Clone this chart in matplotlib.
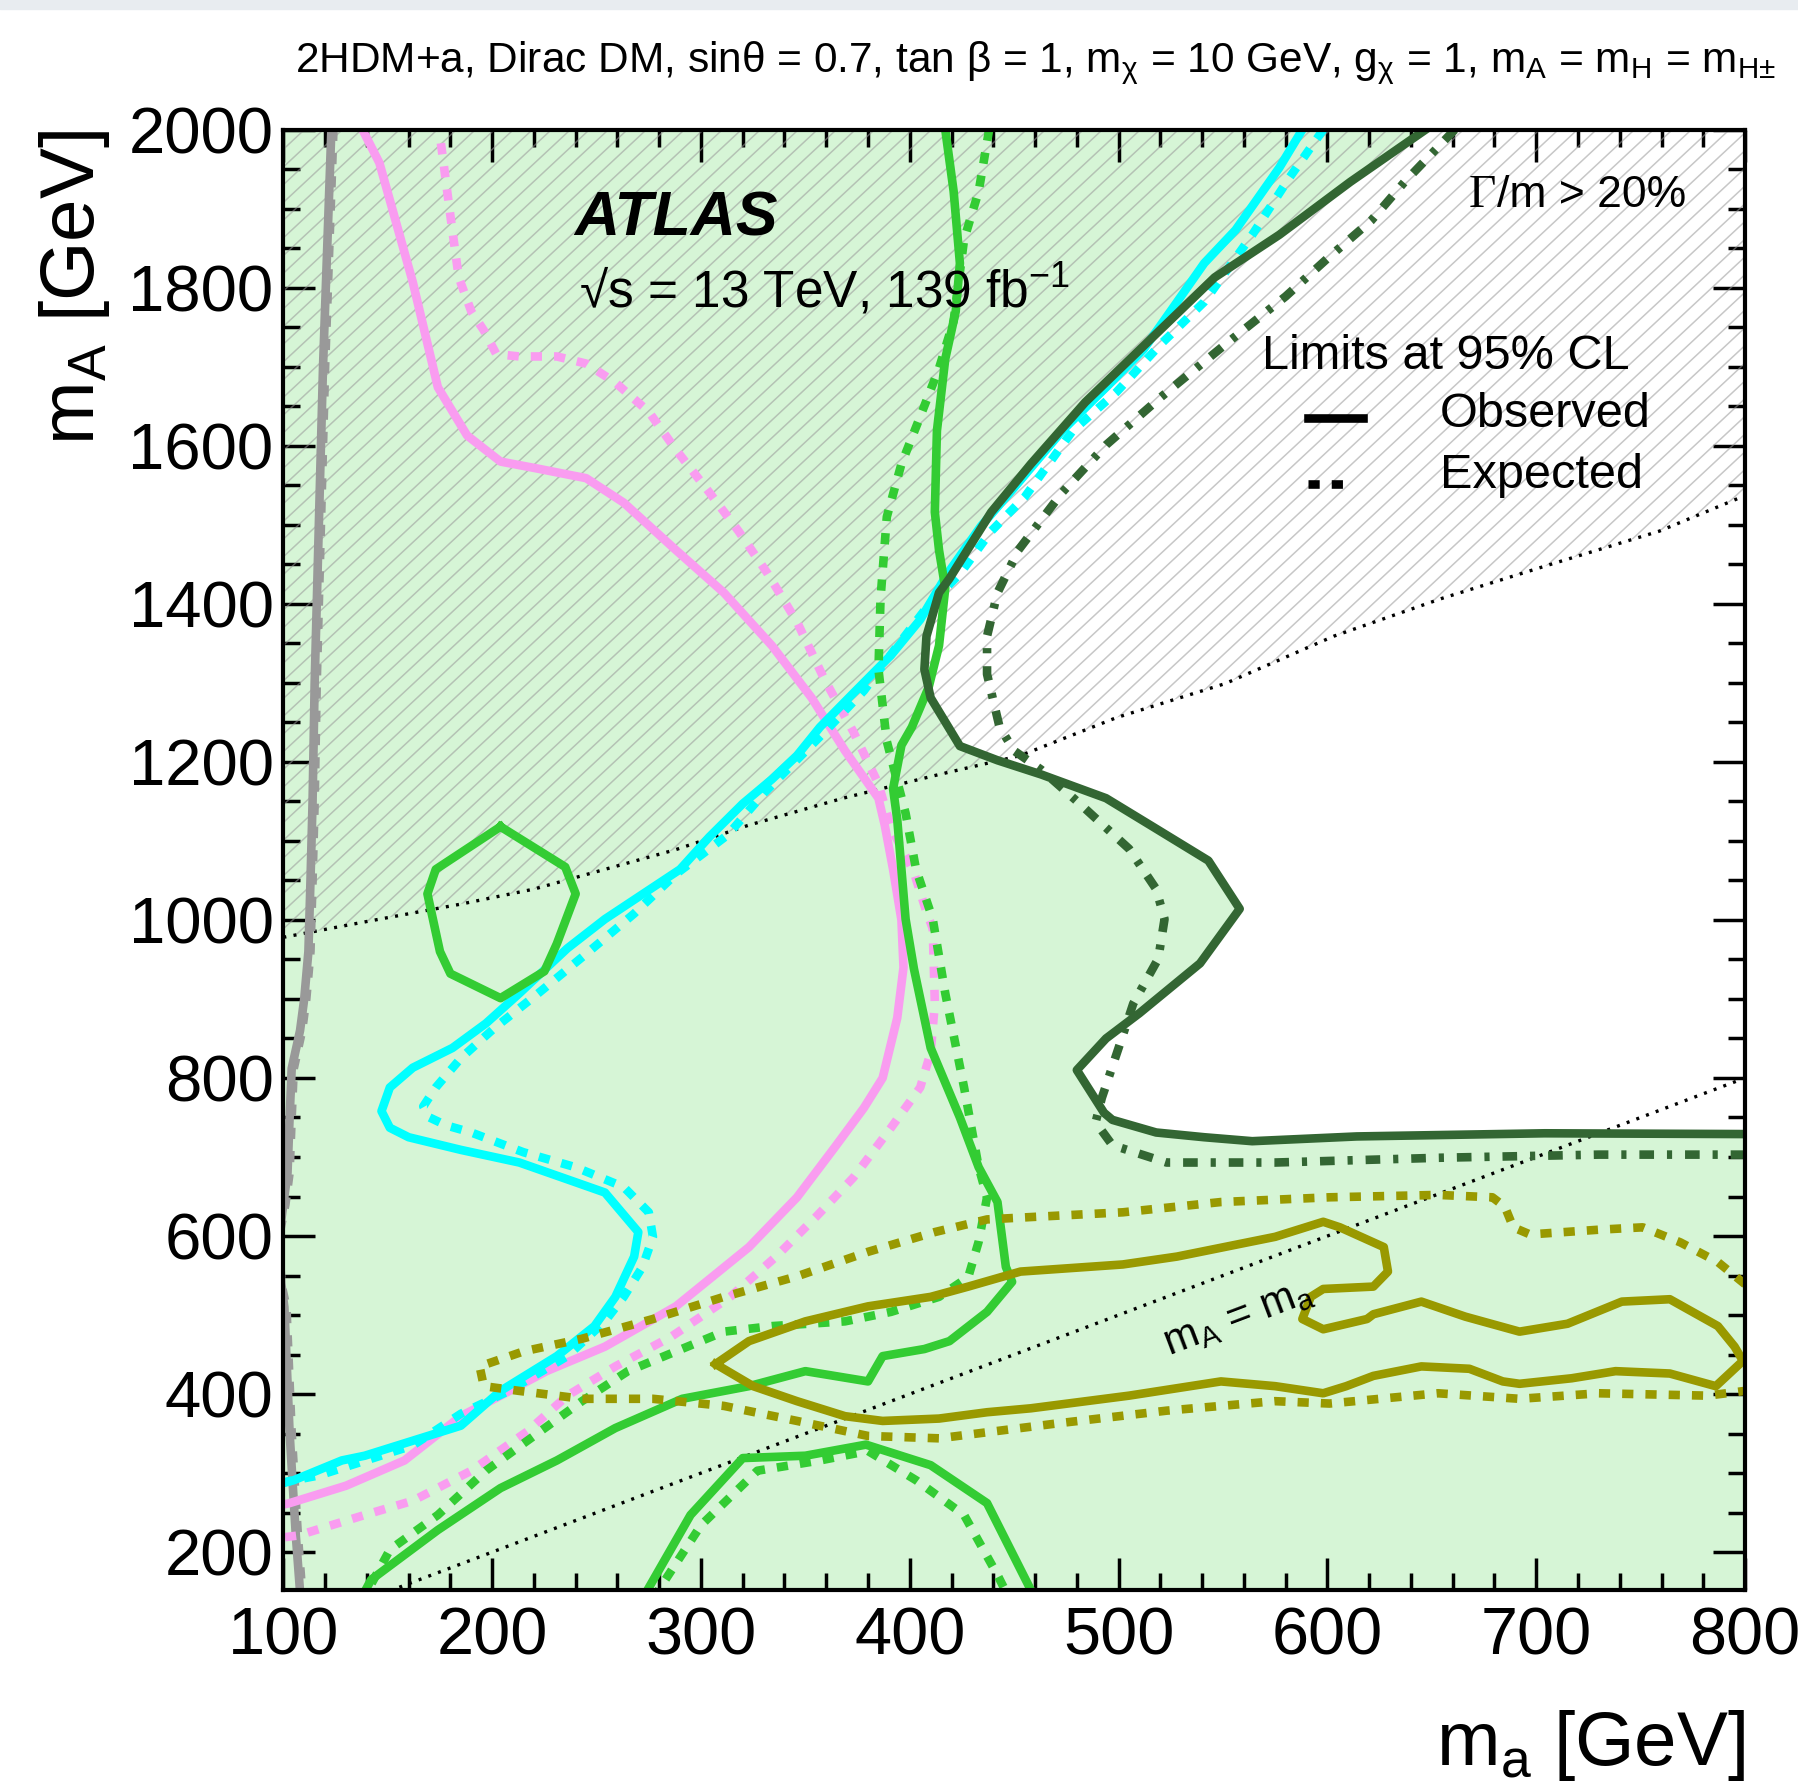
import numpy as np
import matplotlib
matplotlib.use("Agg")
import matplotlib.pyplot as plt
from matplotlib.patches import Polygon, Rectangle
from matplotlib.collections import LineCollection
from matplotlib.lines import Line2D

plt.rcParams['font.family'] = ['Liberation Sans', 'DejaVu Sans']
plt.rcParams['mathtext.fontset'] = 'custom'
plt.rcParams['mathtext.rm'] = 'Liberation Sans'
plt.rcParams['mathtext.it'] = 'Liberation Sans:italic'
plt.rcParams['mathtext.bf'] = 'Liberation Sans:bold'
plt.rcParams['mathtext.default'] = 'regular'

FILL_GREEN = "#d6f5d6"
GREY = "#999999"
PINK = "#f99cf0"
CYAN = "#00ffff"
GREEN = "#33cc33"
DARK_GREEN = "#336633"
OLIVE = "#999900"

LW = 6.2
DASHED = (0, (1.3, 1.4))
DASHDOT = (0, (1.7, 1.5, 0.6, 1.5))

# --- contours (m_a, m_A) in GeV ---
grey_obs_x = [123, 121, 119, 117, 115, 114, 113, 112, 110, 108, 104, 103, 102, 100, 98, 99, 100.5, 103, 106, 108]
grey_obs_y = [2000, 1850, 1700, 1500, 1300, 1150, 1050, 960, 900, 860, 812, 750, 680, 640, 600, 540, 510, 351, 220, 150]
grey_exp_x = [124, 122, 120, 118, 116, 115, 114, 113, 111, 109, 105, 104, 103, 101, 98, 99, 101.5, 104, 107, 109]
grey_exp_y = [2000, 1850, 1700, 1500, 1300, 1150, 1050, 960, 900, 860, 812, 750, 680, 640, 600, 540, 510, 351, 220, 150]

pink_obs_x = [136, 146, 162, 174, 188, 204, 222, 245, 263, 288, 311, 334, 353, 369, 385, 388, 392, 396, 397,
              394, 387, 378, 364, 346, 323, 288, 254, 226, 204, 185, 158, 130, 103, 98]
pink_obs_y = [2010, 1958, 1807, 1674, 1613, 1580, 1571, 1559, 1528, 1468, 1414, 1347, 1281, 1214, 1154, 1120, 1064, 1000, 940,
              876, 800, 762, 712, 649, 586, 511, 460, 429, 398, 372, 316, 284, 262, 259]
pink_exp_x = [174, 177, 180, 184, 190, 196, 202, 213, 231, 245, 259, 275, 288, 304, 318, 332, 346, 359, 373, 385, 391,
              402, 408, 411, 412, 410, 405, 391, 373, 355, 336, 314, 286, 259, 236, 217, 190, 162, 139, 107, 98]
pink_exp_y = [2012, 1952, 1891, 1813, 1770, 1746, 1716, 1713, 1713, 1704, 1680, 1643, 1595, 1541, 1492, 1438, 1377, 1305, 1238, 1172, 1117,
              1060, 1010, 989, 894, 832, 788, 737, 674, 624, 574, 523, 473, 435, 398, 353, 303, 265, 247, 221, 218]

cyan_obs_x = [588, 577, 556, 541, 528, 512, 494, 473, 450, 434, 418, 405, 391, 373, 357, 346, 334, 320, 304, 290, 254, 236,
              213, 197, 181, 162, 151, 147, 151, 160, 185, 213, 240, 254, 270, 268, 259, 249, 231, 204, 185, 139, 128, 105, 98]
cyan_obs_y = [2000, 1952, 1873, 1831, 1782, 1722, 1674, 1619, 1547, 1498, 1438, 1380, 1335, 1287, 1244, 1208, 1178, 1147, 1105, 1064, 1001, 964,
              907, 869, 838, 813, 788, 758, 737, 725, 709, 693, 668, 655, 605, 574, 523, 486, 448, 404, 360, 322, 316, 291, 286]
cyan_exp_x = [598, 582, 564, 541, 520, 499, 478, 455, 439, 424, 408, 395, 378, 360, 345, 330, 313, 288, 268, 245, 222, 201,
              185, 173, 167, 170, 178, 190, 215, 240, 263, 275, 277, 272, 263, 254, 236, 208, 185, 162, 117, 105, 98]
cyan_exp_y = [2000, 1940, 1867, 1782, 1728, 1668, 1619, 1535, 1492, 1438, 1395, 1350, 1290, 1240, 1200, 1160, 1108, 1058, 1008, 957, 907, 863,
              825, 788, 764, 750, 740, 731, 706, 687, 662, 630, 599, 561, 523, 492, 448, 404, 375, 335, 297, 291, 287]

green_obs_x = [417, 421, 424, 422, 417, 413, 412, 414, 417, 414, 409, 401, 396, 392, 394, 396, 398, 402, 410, 424, 433, 442,
               446, 449, 437, 419, 407, 387, 380, 350, 323, 291, 259, 231, 204, 174, 142, 139]
green_obs_y = [2000, 1922, 1831, 1770, 1710, 1619, 1516, 1468, 1420, 1347, 1294, 1244, 1221, 1166, 1127, 1064, 1001, 938, 838, 750, 687, 643,
               561, 542, 504, 467, 457, 448, 416, 429, 410, 394, 357, 316, 281, 228, 165, 150]
green_exp_x = [438, 433, 426, 421, 414, 405, 396, 389, 386, 385, 389, 398, 403, 411, 417, 426, 433, 437, 433, 428, 414,
               391, 369, 334, 311, 288, 265, 243, 220, 197, 174, 151, 142]
green_exp_y = [2000, 1922, 1861, 1758, 1698, 1637, 1577, 1510, 1407, 1317, 1226, 1135, 1064, 1001, 907, 788, 687, 649, 593, 548, 523,
               504, 492, 486, 479, 454, 429, 391, 347, 303, 247, 203, 159]
green_island_x = [204, 235, 240, 231, 225, 204, 180, 175, 169, 173, 204]
green_island_y = [1118, 1067, 1033, 970, 935, 901, 932, 960, 1033, 1064, 1118]
green_arch_obs_x = [272, 295, 320, 350, 379, 410, 437, 458]
green_arch_obs_y = [141, 247, 319, 322, 336, 310, 262, 152]
green_arch_exp_x = [277, 300, 327, 357, 380, 403, 426, 442, 446]
green_arch_exp_y = [141, 234, 303, 316, 328, 291, 247, 171, 150]

dkgreen_obs_x = [647, 611, 577, 546, 515, 484, 458, 439, 419, 414, 408, 407, 410, 424, 442, 463, 494, 517, 543, 558,
                 539, 510, 494, 480, 493, 497, 518, 541, 564, 614, 704, 800]
dkgreen_obs_y = [2000, 1934, 1867, 1813, 1734, 1655, 1577, 1516, 1432, 1414, 1359, 1317, 1281, 1220, 1202, 1184, 1154, 1117, 1075, 1014,
                 945, 882, 850, 810, 756, 747, 731, 725, 720, 726, 730, 729]
dkgreen_exp_x = [661, 637, 621, 600, 580, 551, 520, 494, 473, 452, 442, 437, 437, 443, 450, 463, 481, 505, 518, 522,
                 519, 507, 500, 492, 489, 497, 523, 575, 653, 730, 800]
dkgreen_exp_y = [2000, 1934, 1885, 1837, 1789, 1728, 1661, 1601, 1541, 1468, 1414, 1359, 1311, 1244, 1214, 1190, 1148, 1090, 1039, 1001,
                 951, 894, 838, 775, 744, 715, 693, 693, 699, 703, 703]

olive_obs_x = [307, 323, 350, 380, 410, 428, 453, 502, 528, 575, 598, 606, 627, 629, 622, 598, 592, 588, 598, 619, 622, 645,
               666, 692, 715, 741, 764, 787, 795, 799, 786, 764, 738, 717, 692, 684, 668, 645, 622, 609, 598, 575, 549,
               505, 458, 437, 414, 387, 369, 346, 325, 307]
olive_obs_y = [438, 467, 492, 511, 523, 536, 555, 564, 574, 599, 618, 611, 586, 555, 536, 533, 523, 495, 482, 495, 501, 517,
               498, 479, 489, 517, 520, 486, 460, 442, 410, 426, 429, 420, 413, 416, 432, 435, 423, 410, 401, 410, 416,
               398, 382, 377, 369, 366, 372, 391, 410, 438]
olive_exp_x = [800, 787, 769, 751, 730, 697, 689, 685, 679, 653, 601, 549, 502, 458, 437, 412, 380, 346, 311, 277, 243, 215, 194,
               196, 213, 243, 277, 311, 346, 380, 414, 453, 471, 523, 575, 601, 653, 692, 730, 782, 800]
olive_exp_y = [539, 567, 592, 611, 608, 602, 611, 637, 649, 652, 649, 643, 630, 624, 621, 605, 580, 549, 523, 495, 470, 454, 435,
               410, 404, 394, 394, 385, 366, 347, 344, 357, 363, 379, 391, 388, 401, 394, 401, 398, 404]

# Gamma/m > 20% boundary
width_x = [100, 140, 185, 220, 254, 288, 323, 368, 414, 453, 499, 551, 603, 655, 707, 759, 800]
width_y = [978, 998, 1020, 1039, 1064, 1089, 1120, 1154, 1184, 1208, 1256, 1299, 1359, 1407, 1450, 1492, 1537]

x_ticks = [100, 200, 300, 400, 500, 600, 700, 800]
y_ticks = [200, 400, 600, 800, 1000, 1200, 1400, 1600, 1800, 2000]

fig = plt.figure(figsize=(17.99, 17.91), dpi=100)
fig.patches.append(Rectangle((0, 1 - 9 / 1791), 1, 9 / 1791, transform=fig.transFigure,
                             color="#e8ecf0", zorder=0))
ax = fig.add_axes([0.1575, 0.1122, 0.8125, 0.8154])
ax.set_xlim(100, 800)
ax.set_ylim(152, 2000)
ax.set_facecolor(FILL_GREEN)

# allowed region (white) bounded by the dark green observed contour
white = list(zip(dkgreen_obs_x, dkgreen_obs_y)) + [(800, 2000)]
ax.add_patch(Polygon(white, closed=True, facecolor="white", edgecolor="none", zorder=1))

# hatched Gamma/m > 20% region
hatch_poly = Polygon(list(zip(width_x, width_y)) + [(800, 2000), (100, 2000)], closed=True,
                     facecolor="none", edgecolor="none", zorder=2)
ax.add_patch(hatch_poly)
slope = np.tan(np.radians(43)) * (0.8125 * 1799) / (0.8154 * 1791)
step = 19 / (0.8125 * 1799)
segs = [[(c, 0), (c + 1 / slope, 1)] for c in np.arange(-1.2, 1.0, step)]
lc = LineCollection(segs, transform=ax.transAxes, colors=GREY, alpha=0.55, linewidths=1.1, zorder=2)
ax.add_collection(lc)
lc.set_clip_path(hatch_poly)

ax.plot(width_x, width_y, color="black", lw=2.4, ls=(0, (0.9, 2.2)), zorder=3)
ax.plot([100, 800], [100, 800], color="black", lw=2.4, ls=(0, (0.9, 2.2)), zorder=3)

ax.plot(grey_exp_x, grey_exp_y, color=GREY, lw=LW, ls=DASHED, zorder=4)
ax.plot(grey_obs_x, grey_obs_y, color=GREY, lw=LW, zorder=4)
ax.plot(pink_exp_x, pink_exp_y, color=PINK, lw=LW, ls=DASHED, zorder=4)
ax.plot(pink_obs_x, pink_obs_y, color=PINK, lw=LW, zorder=4)
ax.plot(cyan_exp_x, cyan_exp_y, color=CYAN, lw=LW, ls=DASHED, zorder=5)
ax.plot(cyan_obs_x, cyan_obs_y, color=CYAN, lw=LW, zorder=5)
ax.plot(green_exp_x, green_exp_y, color=GREEN, lw=LW, ls=DASHED, zorder=6)
ax.plot(green_obs_x, green_obs_y, color=GREEN, lw=LW, zorder=6)
ax.plot(green_island_x, green_island_y, color=GREEN, lw=LW, zorder=6)
ax.plot(green_arch_exp_x, green_arch_exp_y, color=GREEN, lw=LW, ls=DASHED, zorder=6)
ax.plot(green_arch_obs_x, green_arch_obs_y, color=GREEN, lw=LW, zorder=6)
ax.plot(olive_exp_x, olive_exp_y, color=OLIVE, lw=LW, ls=DASHED, zorder=7)
ax.plot(olive_obs_x, olive_obs_y, color=OLIVE, lw=LW, zorder=7)
ax.plot(dkgreen_exp_x, dkgreen_exp_y, color=DARK_GREEN, lw=LW, ls=DASHDOT, zorder=8)
ax.plot(dkgreen_obs_x, dkgreen_obs_y, color=DARK_GREEN, lw=LW, zorder=8)

# axes style (ROOT-like inward ticks)
ax.set_xticks(x_ticks)
ax.set_yticks(y_ticks)
ax.set_xticks(np.arange(100, 801, 20), minor=True)
ax.set_yticks(np.arange(200, 2001, 50), minor=True)
ax.tick_params(which="both", direction="in", top=True, right=True, width=2.5)
ax.tick_params(which="major", length=23)
ax.tick_params(which="minor", length=12)
ax.tick_params(axis="x", labelsize=48, pad=12)
ax.tick_params(axis="y", labelsize=47, pad=7)
for s in ax.spines.values():
    s.set_linewidth(3)
    s.set_zorder(10)

ax.text(557, 497, "m$_A$ = m$_a$", rotation=45, transform_rotates_text=True,
        rotation_mode="anchor", ha="center", va="center", fontsize=30, zorder=9)

fig.text(0.0415, 0.9276, "m$_A$ [GeV]", rotation=90, ha="center", va="top", fontsize=55)
fig.text(0.970, 0.0147, "m$_a$ [GeV]", ha="right", va="baseline", fontsize=55)

fig.text(0.987, 0.960,
         "2HDM+a, Dirac DM, sinθ = 0.7, tan β = 1, m$_{χ}$ = 10 GeV, g$_{χ}$ = 1, m$_{A}$ = m$_{H}$ = m$_{H±}$",
         ha="right", va="baseline", fontsize=30.5)
fig.text(0.319, 0.8687, "ATLAS", fontsize=45, fontweight="bold", fontstyle="italic", va="baseline")
fig.text(0.322, 0.8283, "√s = 13 TeV, 139 fb$^{-1}$", fontsize=37, va="baseline")
fig.text(0.8163, 0.8847, "Γ", family=["Liberation Serif"], fontsize=34, va="baseline")
fig.text(0.832, 0.8847, "/m > 20%", fontsize=32, va="baseline")
fig.text(0.7015, 0.7937, "Limits at 95% CL", fontsize=35, va="baseline")
fig.text(0.8004, 0.7617, "Observed", fontsize=35, va="baseline")
fig.text(0.8004, 0.7277, "Expected", fontsize=35, va="baseline")
fig.lines.append(Line2D([0.727, 0.7577], [0.7668, 0.7668], transform=fig.transFigure,
                        color="black", lw=LW))
fig.lines.append(Line2D([0.727, 0.7507], [0.7297, 0.7297], transform=fig.transFigure,
                        color="black", lw=LW, ls=DASHED))

fig.savefig("out.png", dpi=100)
